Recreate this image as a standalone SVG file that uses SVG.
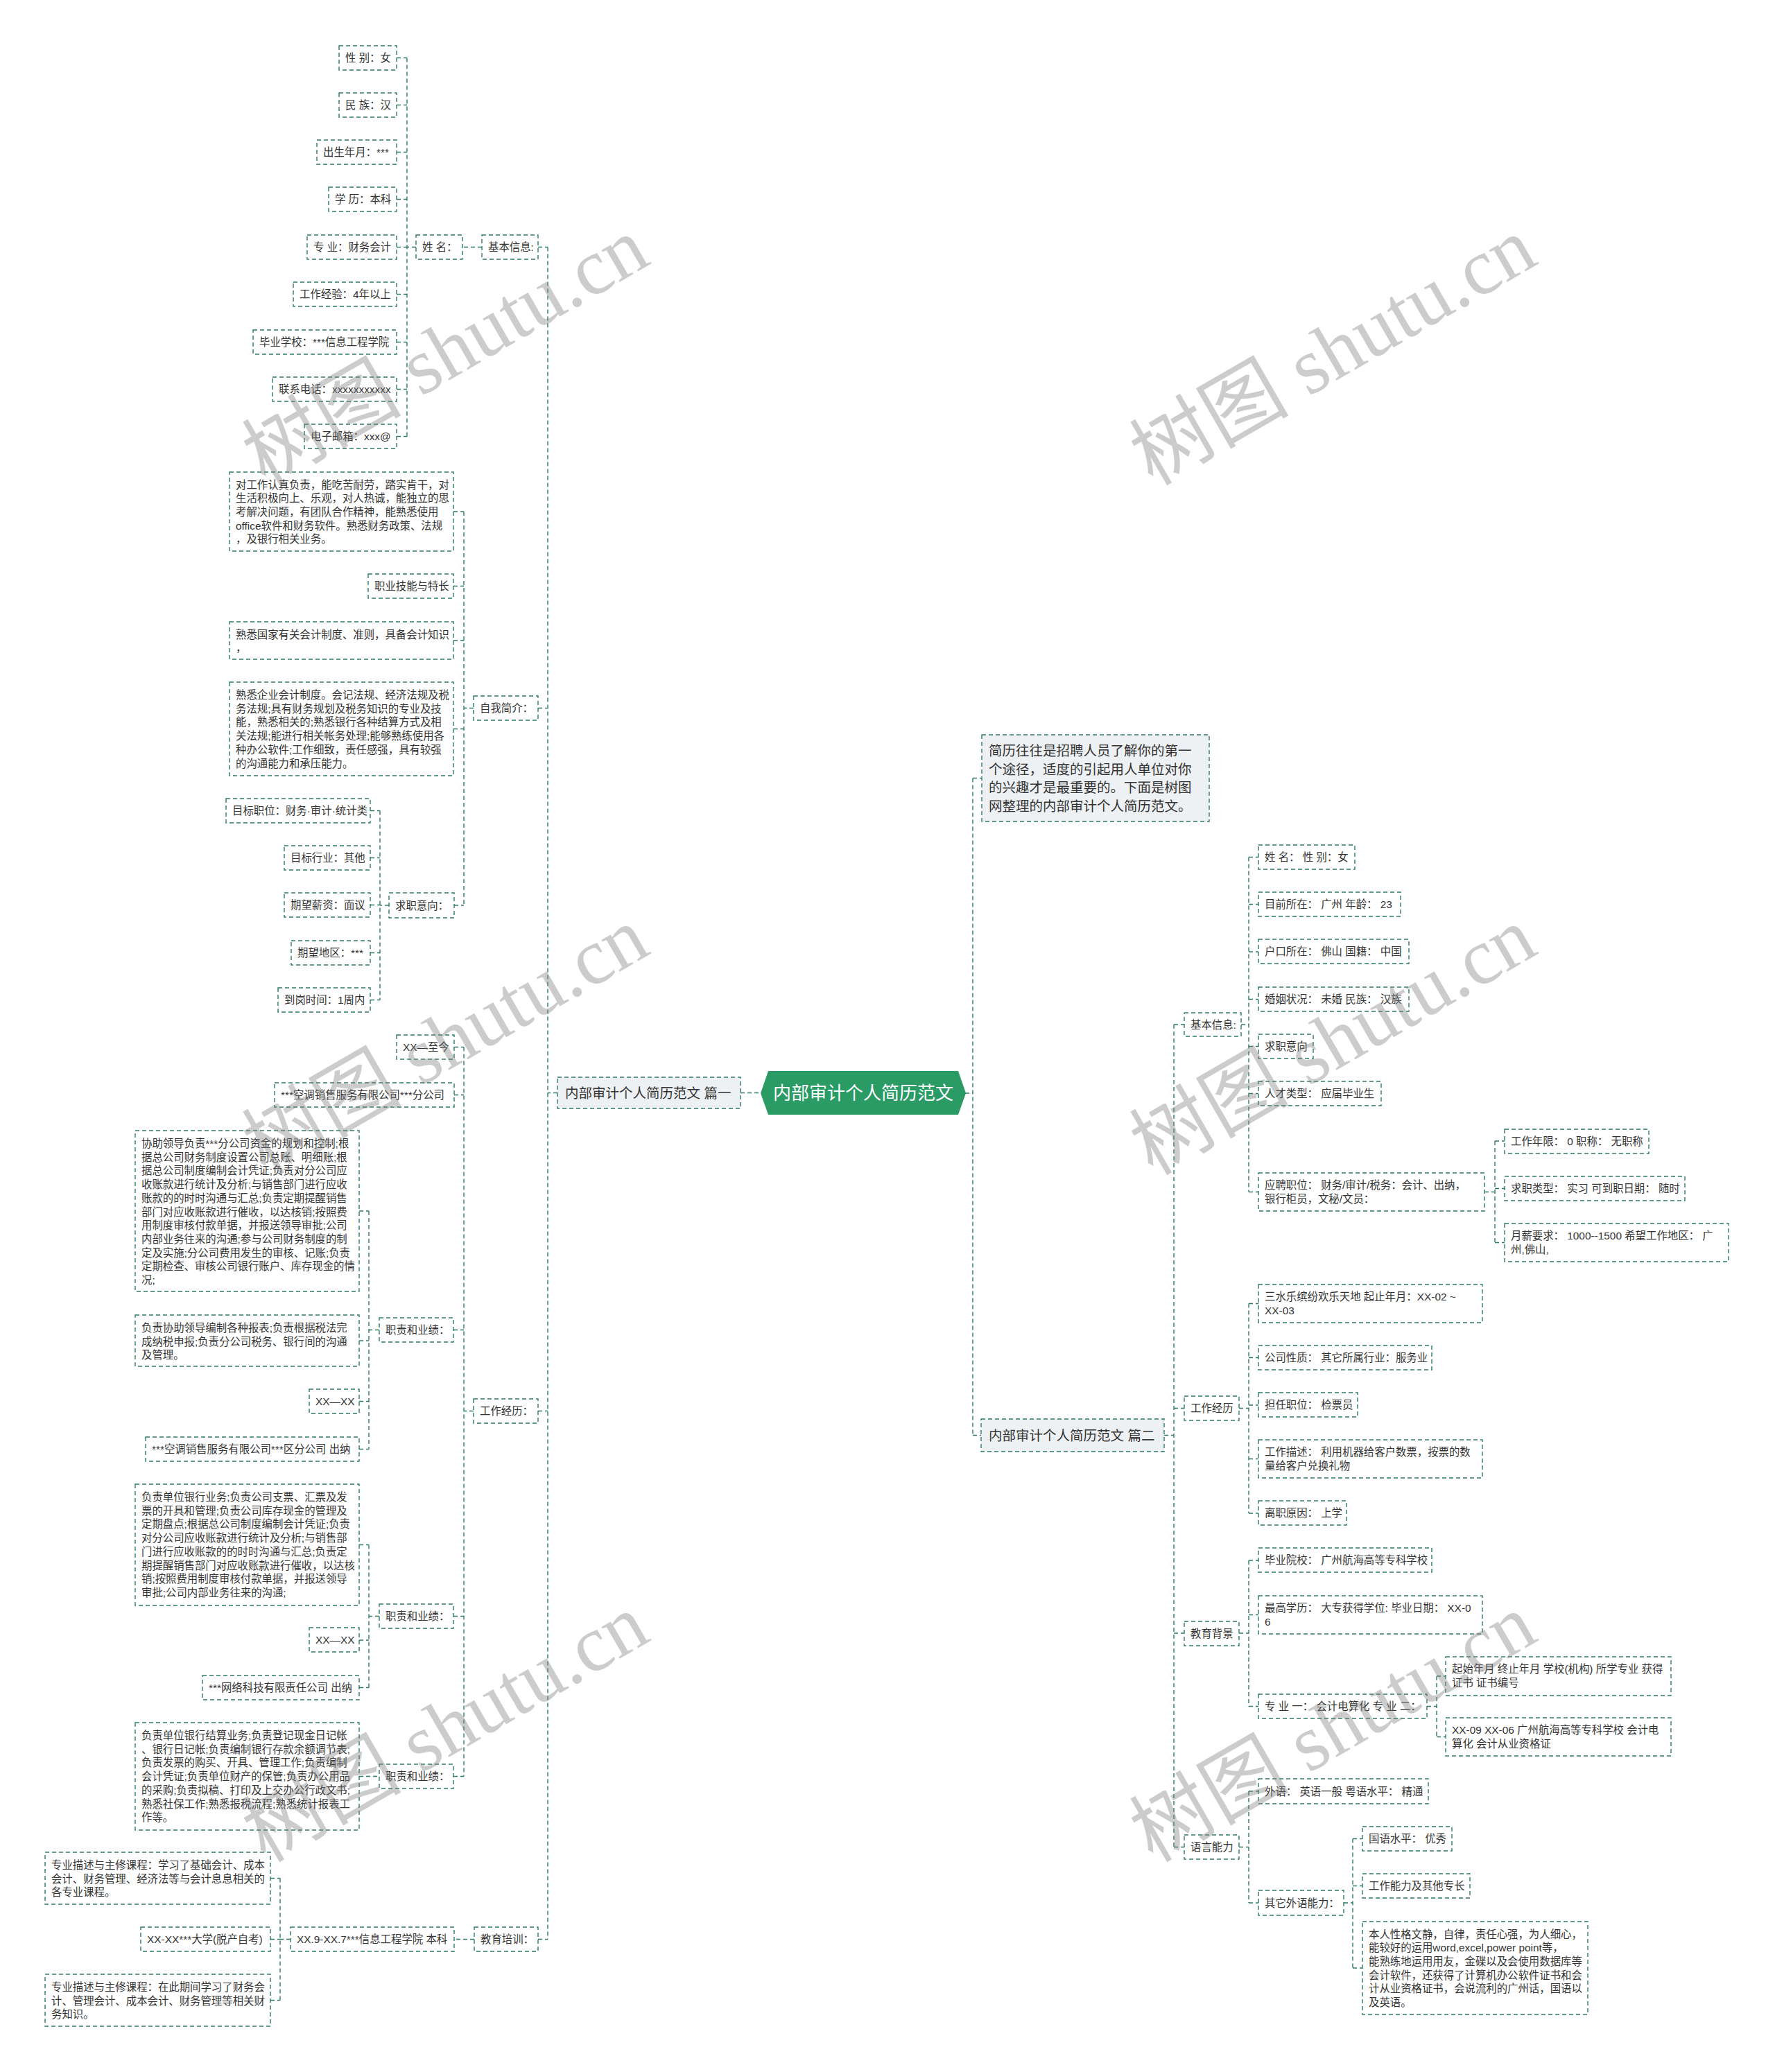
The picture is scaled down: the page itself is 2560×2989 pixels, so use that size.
<svg xmlns="http://www.w3.org/2000/svg" width="2560" height="2989" viewBox="0 0 2560 2989">
<style>
.n rect{fill:#ffffff;stroke:#2e7b62;stroke-width:1.4;stroke-dasharray:6 4}
.g rect{fill:#eef1f4;stroke:#2e7b62;stroke-width:1.4;stroke-dasharray:6 4}
text{font-family:"Liberation Sans","Noto Sans CJK SC",sans-serif;font-size:15.4px;fill:#333333}
.big{font-size:19.5px}
.ctr{font-size:26px;fill:#ffffff}
#connectors path{fill:none;stroke:#2e7b62;stroke-width:1.4;stroke-dasharray:6 4}
.wm{font-family:"Liberation Serif","Noto Sans CJK SC",serif;font-size:115px;fill:#808080;fill-opacity:0.4}
</style>
<rect x="0" y="0" width="2560" height="2989" fill="#ffffff"/>
<g id="connectors">
<path d="M790,356.5 V2797.5 M776,356.5 H790 M776,1021.5 H790 M776,2035.5 H790 M776,2797.5 H790 M804,1576.5 H790"/>
<path d="M695,356.5 H667"/>
<path d="M587,83.5 V629.5 M600,356.5 H587 M572,83.5 H587 M572,151.5 H587 M572,219.5 H587 M572,287.5 H587 M572,356.5 H587 M572,424.5 H587 M572,493.5 H587 M572,561.5 H587 M572,629.5 H587"/>
<path d="M669,738 V1306 M683,1021.5 H669 M654,738 H669 M654,845.5 H669 M654,924 H669 M654,1051.5 H669 M655,1306 H669"/>
<path d="M548,1169.5 V1442.5 M561,1306 H548 M534,1169.5 H548 M534,1237.5 H548 M534,1305.5 H548 M534,1374.5 H548 M534,1442.5 H548"/>
<path d="M669,1510.5 V2562.5 M683,2035.5 H669 M655,1510.5 H669 M655,1579.5 H669 M654,1918.5 H669 M654,2331.5 H669 M654,2562.5 H669"/>
<path d="M532,1747 V2090.5 M547,1918.5 H532 M518,1747 H532 M518,1934 H532 M518,2021.5 H532 M518,2090.5 H532"/>
<path d="M532,2228.5 V2434.5 M547,2331.5 H532 M518,2228.5 H532 M518,2366 H532 M518,2434.5 H532"/>
<path d="M518,2562.5 H547"/>
<path d="M684,2797.5 H655"/>
<path d="M404,2709.5 V2885.5 M419,2797.5 H404 M390,2709.5 H404 M390,2797.5 H404 M390,2885.5 H404"/>
<path d="M1068,1576.5 H1097"/>
<path d="M1403,1122.5 V2070.5 M1392,1577 H1403 M1403,1122.5 H1416 M1403,2070.5 H1415"/>
<path d="M1693,1478 V2664.5 M1679,2070.5 H1693 M1693,1478 H1708 M1693,2031.5 H1708 M1693,2356 H1708 M1693,2664.5 H1708"/>
<path d="M1801,1236.5 V1719.5 M1790,1478 H1801 M1801,1236.5 H1815 M1801,1304.5 H1815 M1801,1373 H1815 M1801,1441.5 H1815 M1801,1509.5 H1815 M1801,1577.5 H1815 M1801,1719.5 H1815"/>
<path d="M2156,1646 V1792.5 M2141,1719.5 H2156 M2156,1646 H2170 M2156,1714.5 H2170 M2156,1792.5 H2170"/>
<path d="M1801,1880.5 V2183 M1787,2031.5 H1801 M1801,1880.5 H1815 M1801,1958.5 H1815 M1801,2027 H1815 M1801,2104.5 H1815 M1801,2183 H1815"/>
<path d="M1801,2251 V2461.5 M1787,2356 H1801 M1801,2251 H1815 M1801,2329.5 H1815 M1801,2461.5 H1815"/>
<path d="M2072,2418 V2505.5 M2058,2461.5 H2072 M2072,2418 H2085 M2072,2505.5 H2085"/>
<path d="M1801,2584 V2745 M1787,2664.5 H1801 M1801,2584 H1815 M1801,2745 H1815"/>
<path d="M1951,2652.5 V2839 M1938,2745 H1951 M1951,2652.5 H1965 M1951,2720.5 H1965 M1951,2839 H1965"/>
</g>

<g id="center">
<polygon points="1097,1577 1108,1545 1382,1545 1393,1577 1382,1608 1108,1608" fill="#2b9b66"/>
<text class="ctr" x="1245" y="1586" text-anchor="middle">内部审计个人简历范文</text>
</g>

<g id="p1" class="g"><rect x="804" y="1554" width="264" height="45"/><text class="big" x="815" y="1583.5">内部审计个人简历范文 篇一</text></g>

<g id="l-basic" class="n"><rect x="695" y="339" width="81" height="35"/><text x="704" y="362">基本信息:</text></g>
<g id="l-name" class="n"><rect x="600" y="339" width="67" height="35"/><text x="609" y="362">姓 名：</text></g>
<g id="l-n1" class="n"><rect x="489" y="66" width="83" height="35"/><text x="498" y="89">性 别：女</text></g>
<g id="l-n2" class="n"><rect x="489" y="134" width="83" height="35"/><text x="498" y="157">民 族：汉</text></g>
<g id="l-n3" class="n"><rect x="457" y="202" width="115" height="35"/><text x="466" y="225">出生年月：***</text></g>
<g id="l-n4" class="n"><rect x="474" y="270" width="98" height="35"/><text x="483" y="293">学 历：本科</text></g>
<g id="l-n5" class="n"><rect x="443" y="339" width="129" height="35"/><text x="452" y="362">专 业：财务会计</text></g>
<g id="l-n6" class="n"><rect x="423" y="407" width="149" height="35"/><text x="432" y="430">工作经验：4年以上</text></g>
<g id="l-n7" class="n"><rect x="365" y="476" width="207" height="35"/><text x="374" y="499">毕业学校：***信息工程学院</text></g>
<g id="l-n8" class="n"><rect x="393" y="544" width="179" height="35"/><text x="402" y="567">联系电话：xxxxxxxxxxx</text></g>
<g id="l-n9" class="n"><rect x="439" y="612" width="133" height="35"/><text x="448" y="635">电子邮箱：xxx@</text></g>

<g id="l-self" class="n"><rect x="683" y="1004" width="93" height="35"/><text x="692" y="1027">自我简介：</text></g>
<g id="l-s1" class="n"><rect x="331" y="681" width="323" height="114"/><text x="340" y="704.5"><tspan x="340">对工作认真负责，能吃苦耐劳，踏实肯干，对</tspan><tspan x="340" dy="19.7">生活积极向上、乐观，对人热诚，能独立的思</tspan><tspan x="340" dy="19.7">考解决问题，有团队合作精神，能熟悉使用</tspan><tspan x="340" dy="19.7">office软件和财务软件。熟悉财务政策、法规</tspan><tspan x="340" dy="19.7">，及银行相关业务。</tspan></text></g>
<g id="l-s2" class="n"><rect x="531" y="828" width="123" height="35"/><text x="540" y="851">职业技能与特长</text></g>
<g id="l-s3" class="n"><rect x="331" y="897" width="323" height="54"/><text x="340" y="920.5"><tspan x="340">熟悉国家有关会计制度、准则，具备会计知识</tspan><tspan x="340" dy="19.7">，</tspan></text></g>
<g id="l-s4" class="n"><rect x="331" y="984" width="323" height="135"/><text x="340" y="1008"><tspan x="340">熟悉企业会计制度。会记法规、经济法规及税</tspan><tspan x="340" dy="19.7">务法规;具有财务规划及税务知识的专业及技</tspan><tspan x="340" dy="19.7">能，熟悉相关的;熟悉银行各种结算方式及相</tspan><tspan x="340" dy="19.7">关法规;能进行相关帐务处理;能够熟练使用各</tspan><tspan x="340" dy="19.7">种办公软件;工作细致，责任感强，具有较强</tspan><tspan x="340" dy="19.7">的沟通能力和承压能力。</tspan></text></g>
<g id="l-job" class="n"><rect x="561" y="1288" width="94" height="36"/><text x="570" y="1311.5">求职意向：</text></g>
<g id="l-j1" class="n"><rect x="326" y="1152" width="208" height="35"/><text x="335" y="1175">目标职位：财务·审计·统计类</text></g>
<g id="l-j2" class="n"><rect x="410" y="1220" width="124" height="35"/><text x="419" y="1243">目标行业：其他</text></g>
<g id="l-j3" class="n"><rect x="410" y="1288" width="124" height="35"/><text x="419" y="1311">期望薪资：面议</text></g>
<g id="l-j4" class="n"><rect x="420" y="1357" width="114" height="35"/><text x="429" y="1380">期望地区：***</text></g>
<g id="l-j5" class="n"><rect x="401" y="1425" width="133" height="35"/><text x="410" y="1448">到岗时间：1周内</text></g>

<g id="l-work" class="n"><rect x="683" y="2018" width="93" height="35"/><text x="692" y="2041">工作经历：</text></g>
<g id="l-w1" class="n"><rect x="572" y="1493" width="83" height="35"/><text x="581" y="1516">XX—至今</text></g>
<g id="l-w2" class="n"><rect x="396" y="1562" width="259" height="35"/><text x="405" y="1585">***空调销售服务有限公司***分公司</text></g>
<g id="l-d1" class="n"><rect x="547" y="1901" width="107" height="35"/><text x="556" y="1924">职责和业绩：</text></g>
<g id="l-d1a" class="n"><rect x="195" y="1631" width="323" height="232"/><text x="204" y="1655"><tspan x="204">协助领导负责***分公司资金的规划和控制;根</tspan><tspan x="204" dy="19.7">据总公司财务制度设置公司总账、明细账;根</tspan><tspan x="204" dy="19.7">据总公司制度编制会计凭证;负责对分公司应</tspan><tspan x="204" dy="19.7">收账款进行统计及分析;与销售部门进行应收</tspan><tspan x="204" dy="19.7">账款的的时时沟通与汇总;负责定期提醒销售</tspan><tspan x="204" dy="19.7">部门对应收账款进行催收，以达核销;按照费</tspan><tspan x="204" dy="19.7">用制度审核付款单据，并报送领导审批;公司</tspan><tspan x="204" dy="19.7">内部业务往来的沟通;参与公司财务制度的制</tspan><tspan x="204" dy="19.7">定及实施;分公司费用发生的审核、记账;负责</tspan><tspan x="204" dy="19.7">定期检查、审核公司银行账户、库存现金的情</tspan><tspan x="204" dy="19.7">况;</tspan></text></g>
<g id="l-d1b" class="n"><rect x="195" y="1897" width="323" height="74"/><text x="204" y="1921"><tspan x="204">负责协助领导编制各种报表;负责根据税法完</tspan><tspan x="204" dy="19.7">成纳税申报;负责分公司税务、银行间的沟通</tspan><tspan x="204" dy="19.7">及管理。</tspan></text></g>
<g id="l-d1c" class="n"><rect x="446" y="2004" width="72" height="35"/><text x="455" y="2027">XX—XX</text></g>
<g id="l-d1d" class="n"><rect x="210" y="2073" width="308" height="35"/><text x="219" y="2096">***空调销售服务有限公司***区分公司 出纳</text></g>
<g id="l-d2" class="n"><rect x="547" y="2314" width="107" height="35"/><text x="556" y="2337">职责和业绩：</text></g>
<g id="l-d2a" class="n"><rect x="195" y="2141" width="323" height="175"/><text x="204" y="2165"><tspan x="204">负责单位银行业务;负责公司支票、汇票及发</tspan><tspan x="204" dy="19.7">票的开具和管理;负责公司库存现金的管理及</tspan><tspan x="204" dy="19.7">定期盘点;根据总公司制度编制会计凭证;负责</tspan><tspan x="204" dy="19.7">对分公司应收账款进行统计及分析;与销售部</tspan><tspan x="204" dy="19.7">门进行应收账款的的时时沟通与汇总;负责定</tspan><tspan x="204" dy="19.7">期提醒销售部门对应收账款进行催收，以达核</tspan><tspan x="204" dy="19.7">销;按照费用制度审核付款单据，并报送领导</tspan><tspan x="204" dy="19.7">审批;公司内部业务往来的沟通;</tspan></text></g>
<g id="l-d2b" class="n"><rect x="446" y="2348" width="72" height="35"/><text x="455" y="2371">XX—XX</text></g>
<g id="l-d2c" class="n"><rect x="292" y="2417" width="226" height="35"/><text x="301" y="2440">***网络科技有限责任公司 出纳</text></g>
<g id="l-d3" class="n"><rect x="547" y="2545" width="107" height="35"/><text x="556" y="2568">职责和业绩：</text></g>
<g id="l-d3a" class="n"><rect x="195" y="2485" width="323" height="155"/><text x="204" y="2509"><tspan x="204">负责单位银行结算业务;负责登记现金日记帐</tspan><tspan x="204" dy="19.7">、银行日记帐;负责编制银行存款余额调节表;</tspan><tspan x="204" dy="19.7">负责发票的购买、开具、管理工作;负责编制</tspan><tspan x="204" dy="19.7">会计凭证;负责单位财产的保管;负责办公用品</tspan><tspan x="204" dy="19.7">的采购;负责拟稿、打印及上交办公行政文书;</tspan><tspan x="204" dy="19.7">熟悉社保工作;熟悉报税流程;熟悉统计报表工</tspan><tspan x="204" dy="19.7">作等。</tspan></text></g>

<g id="l-edu" class="n"><rect x="684" y="2780" width="92" height="35"/><text x="693" y="2803">教育培训：</text></g>
<g id="l-e1" class="n"><rect x="419" y="2780" width="236" height="35"/><text x="428" y="2803">XX.9-XX.7***信息工程学院 本科</text></g>
<g id="l-e1a" class="n"><rect x="65" y="2672" width="325" height="75"/><text x="74" y="2696"><tspan x="74">专业描述与主修课程：学习了基础会计、成本</tspan><tspan x="74" dy="19.7">会计、财务管理、经济法等与会计息息相关的</tspan><tspan x="74" dy="19.7">各专业课程。</tspan></text></g>
<g id="l-e1b" class="n"><rect x="203" y="2780" width="187" height="35"/><text x="212" y="2803">XX-XX***大学(脱产自考)</text></g>
<g id="l-e1c" class="n"><rect x="65" y="2848" width="325" height="75"/><text x="74" y="2872"><tspan x="74">专业描述与主修课程：在此期间学习了财务会</tspan><tspan x="74" dy="19.7">计、管理会计、成本会计、财务管理等相关财</tspan><tspan x="74" dy="19.7">务知识。</tspan></text></g>

<g id="intro" class="g"><rect x="1416" y="1060" width="328" height="125"/><text class="big" x="1426" y="1090"><tspan x="1426">简历往往是招聘人员了解你的第一</tspan><tspan x="1426" dy="26.6">个途径，适度的引起用人单位对你</tspan><tspan x="1426" dy="26.6">的兴趣才是最重要的。下面是树图</tspan><tspan x="1426" dy="26.6">网整理的内部审计个人简历范文。</tspan></text></g>

<g id="p2" class="g"><rect x="1415" y="2047" width="264" height="47"/><text class="big" x="1426" y="2077.5">内部审计个人简历范文 篇二</text></g>

<g id="r-basic" class="n"><rect x="1708" y="1461" width="82" height="34"/><text x="1717" y="1484">基本信息:</text></g>
<g id="r-b1" class="n"><rect x="1815" y="1219" width="139" height="35"/><text x="1824" y="1242">姓 名： 性 别：女</text></g>
<g id="r-b2" class="n"><rect x="1815" y="1287" width="205" height="35"/><text x="1824" y="1310">目前所在： 广州 年龄： 23</text></g>
<g id="r-b3" class="n"><rect x="1815" y="1355" width="217" height="35"/><text x="1824" y="1378">户口所在： 佛山 国籍： 中国</text></g>
<g id="r-b4" class="n"><rect x="1815" y="1424" width="217" height="35"/><text x="1824" y="1447">婚姻状况： 未婚 民族： 汉族</text></g>
<g id="r-b5" class="n"><rect x="1815" y="1492" width="79" height="35"/><text x="1824" y="1515">求职意向</text></g>
<g id="r-b6" class="n"><rect x="1815" y="1560" width="177" height="35"/><text x="1824" y="1583">人才类型： 应届毕业生</text></g>
<g id="r-b7" class="n"><rect x="1815" y="1692" width="326" height="55"/><text x="1824" y="1715"><tspan x="1824">应聘职位： 财务/审计/税务：会计、出纳，</tspan><tspan x="1824" dy="19.7">银行柜员，文秘/文员：</tspan></text></g>
<g id="r-b7a" class="n"><rect x="2170" y="1629" width="208" height="35"/><text x="2179" y="1652">工作年限： 0 职称： 无职称</text></g>
<g id="r-b7b" class="n"><rect x="2170" y="1697" width="260" height="35"/><text x="2179" y="1720">求职类型： 实习 可到职日期： 随时</text></g>
<g id="r-b7c" class="n"><rect x="2170" y="1765" width="323" height="55"/><text x="2179" y="1788"><tspan x="2179">月薪要求： 1000--1500 希望工作地区： 广</tspan><tspan x="2179" dy="19.7">州,佛山,</tspan></text></g>

<g id="r-work" class="n"><rect x="1708" y="2014" width="79" height="35"/><text x="1717" y="2037">工作经历</text></g>
<g id="r-w1" class="n"><rect x="1815" y="1853" width="323" height="55"/><text x="1824" y="1876"><tspan x="1824">三水乐缤纷欢乐天地 起止年月：XX-02 ~</tspan><tspan x="1824" dy="19.7">XX-03</tspan></text></g>
<g id="r-w2" class="n"><rect x="1815" y="1941" width="250" height="35"/><text x="1824" y="1964">公司性质： 其它所属行业：服务业</text></g>
<g id="r-w3" class="n"><rect x="1815" y="2009" width="143" height="35"/><text x="1824" y="2032">担任职位： 检票员</text></g>
<g id="r-w4" class="n"><rect x="1815" y="2077" width="323" height="55"/><text x="1824" y="2100"><tspan x="1824">工作描述： 利用机器给客户数票，按票的数</tspan><tspan x="1824" dy="19.7">量给客户兑换礼物</tspan></text></g>
<g id="r-w5" class="n"><rect x="1815" y="2165" width="127" height="35"/><text x="1824" y="2188">离职原因： 上学</text></g>

<g id="r-edu" class="n"><rect x="1708" y="2339" width="79" height="35"/><text x="1717" y="2362">教育背景</text></g>
<g id="r-e1" class="n"><rect x="1815" y="2233" width="250" height="35"/><text x="1824" y="2256">毕业院校： 广州航海高等专科学校</text></g>
<g id="r-e2" class="n"><rect x="1815" y="2302" width="323" height="55"/><text x="1824" y="2325"><tspan x="1824">最高学历： 大专获得学位: 毕业日期： XX-0</tspan><tspan x="1824" dy="19.7">6</tspan></text></g>
<g id="r-e3" class="n"><rect x="1815" y="2444" width="243" height="35"/><text x="1824" y="2467">专 业 一：  会计电算化 专 业 二：</text></g>
<g id="r-e3a" class="n"><rect x="2085" y="2390" width="325" height="56"/><text x="2094" y="2413"><tspan x="2094">起始年月 终止年月 学校(机构) 所学专业 获得</tspan><tspan x="2094" dy="19.7">证书 证书编号</tspan></text></g>
<g id="r-e3b" class="n"><rect x="2085" y="2478" width="325" height="55"/><text x="2094" y="2501"><tspan x="2094">XX-09 XX-06 广州航海高等专科学校 会计电</tspan><tspan x="2094" dy="19.7">算化 会计从业资格证</tspan></text></g>

<g id="r-lang" class="n"><rect x="1708" y="2647" width="79" height="35"/><text x="1717" y="2670">语言能力</text></g>
<g id="r-l1" class="n"><rect x="1815" y="2566" width="245" height="36"/><text x="1824" y="2589.5">外语： 英语一般 粤语水平： 精通</text></g>
<g id="r-l2" class="n"><rect x="1815" y="2727" width="123" height="36"/><text x="1824" y="2750.5">其它外语能力：</text></g>
<g id="r-l2a" class="n"><rect x="1965" y="2635" width="129" height="35"/><text x="1974" y="2658">国语水平： 优秀</text></g>
<g id="r-l2b" class="n"><rect x="1965" y="2703" width="155" height="35"/><text x="1974" y="2726">工作能力及其他专长</text></g>
<g id="r-l2c" class="n"><rect x="1965" y="2772" width="325" height="134"/><text x="1974" y="2795.5"><tspan x="1974">本人性格文静，自律，责任心强，为人细心，</tspan><tspan x="1974" dy="19.7">能较好的运用word,excel,power point等，</tspan><tspan x="1974" dy="19.7">能熟练地运用用友，金碟以及会使用数据库等</tspan><tspan x="1974" dy="19.7">会计软件，还获得了计算机办公软件证书和会</tspan><tspan x="1974" dy="19.7">计从业资格证书，会说流利的广州话，国语以</tspan><tspan x="1974" dy="19.7">及英语。</tspan></text></g>

<g id="watermarks">
<text class="wm" x="645" y="545" text-anchor="middle" transform="rotate(-30 645 511)">树图 shutu.cn</text>
<text class="wm" x="645" y="1540" text-anchor="middle" transform="rotate(-30 645 1506)">树图 shutu.cn</text>
<text class="wm" x="645" y="2531" text-anchor="middle" transform="rotate(-30 645 2497)">树图 shutu.cn</text>
<text class="wm" x="1925" y="545" text-anchor="middle" transform="rotate(-30 1925 511)">树图 shutu.cn</text>
<text class="wm" x="1925" y="1540" text-anchor="middle" transform="rotate(-30 1925 1506)">树图 shutu.cn</text>
<text class="wm" x="1925" y="2531" text-anchor="middle" transform="rotate(-30 1925 2497)">树图 shutu.cn</text>
</g>
</svg>
